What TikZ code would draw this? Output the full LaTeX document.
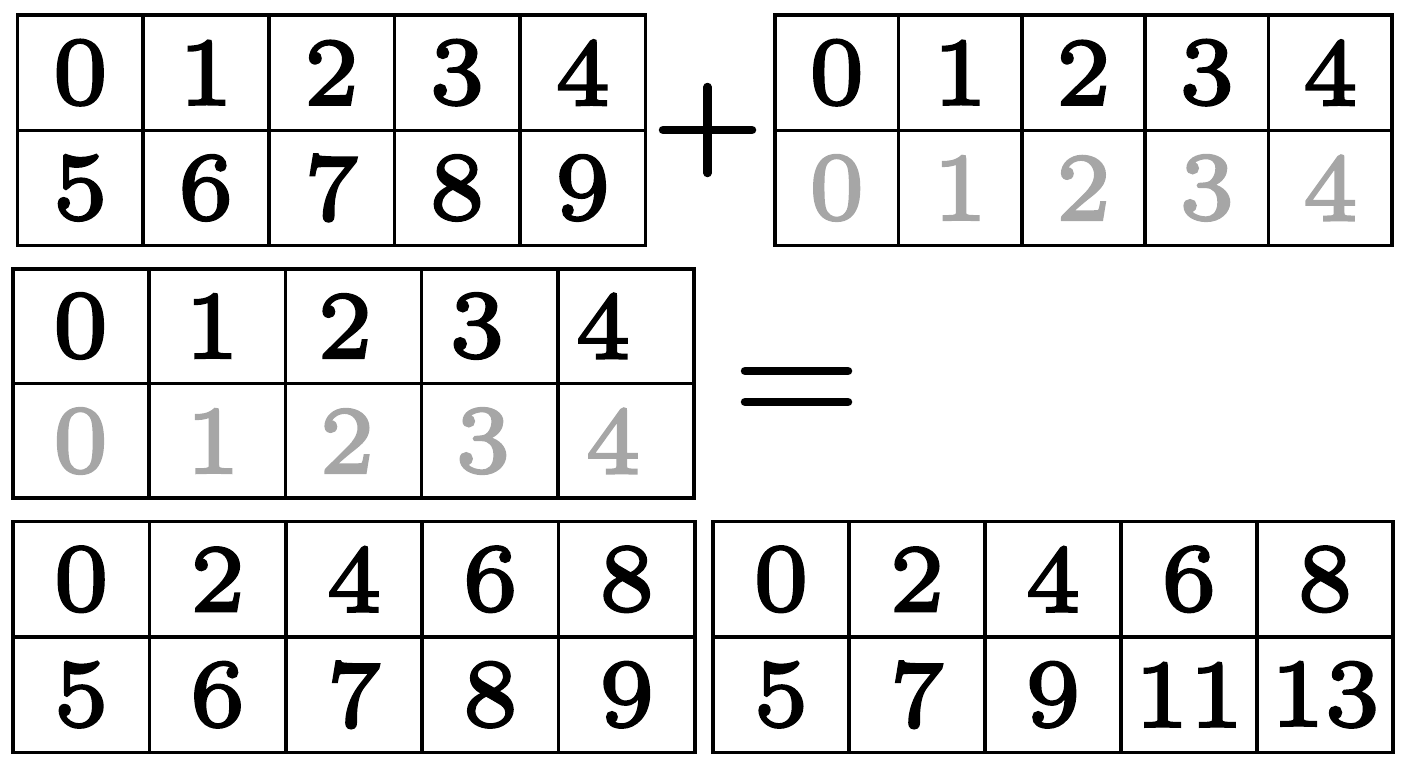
\documentclass[tikz,border=0pt]{standalone}
\usepackage{fontspec}
\usepackage{tikz}
\usetikzlibrary{positioning}
\newfontfamily\digitfont{lmroman7-regular.otf}[FakeBold=2.8]
\definecolor{lightnum}{RGB}{166,166,166}
\newcommand{\bignum}{\digitfont\fontsize{96}{96}\selectfont}
% one 2x5 grid: name, left, top, cell width, cell height, top digits, bottom digits, bottom colour
\newcommand{\numgrid}[8]{%
  \foreach \v [count=\i from 0] in {#6}
    \node[cellbox, minimum width=#4pt, minimum height=#5pt] (#1-t\i) at ({#2+(\i+0.5)*#4},{#3+0.5*#5}) {\v};
  \foreach \v [count=\i from 0] in {#7}
    \node[cellbox, minimum width=#4pt, minimum height=#5pt, text=#8] (#1-b\i) at ({#2+(\i+0.5)*#4},{#3+1.5*#5}) {\v};
}
\begin{document}
\begin{tikzpicture}[x=1pt,y=1pt,yscale=-1,xscale=1]
  \tikzset{cellbox/.style={draw=black, line width=3.6pt, inner sep=0pt, font=\bignum}}
  \tikzset{numtext/.style={inner sep=0pt, font=\bignum}}
  \tikzset{opsign/.style={line width=8.5pt, line cap=round}}
  \useasboundingbox (0,0) rectangle (1408,768);
  %Draw the two grids that are added
  \numgrid{first}{17.5}{15}{125.6}{115.3}{0,1,2,3,4}{5,6,7,8,9}{black}
  \numgrid{second}{775}{15}{123.4}{115.3}{0,1,2,3,4}{0,1,2,3,4}{lightnum}
  %Draw the plus sign
  \draw[opsign] (663,130) -- (752,130);
  \draw[opsign] (707.5,87) -- (707.5,173);
  %Draw the middle grid, its digits sit a little to the left
  \foreach \i in {0,...,4} {
    \node[cellbox, minimum width=136.2pt, minimum height=114.6pt] (middle-t\i) at ({13+(\i+0.5)*136.2},{269+0.5*114.6}) {};
    \node[cellbox, minimum width=136.2pt, minimum height=114.6pt] (middle-b\i) at ({13+(\i+0.5)*136.2},{269+1.5*114.6}) {};
  }
  \foreach \v/\x in {0/80.5,1/212,2/345,3/477,4/603}
    \node[numtext] (middle-tn\v) at (\x,326) {\v};
  \foreach \v/\x in {0/80.5,1/213,2/347,3/483,4/613}
    \node[numtext, text=lightnum] (middle-bn\v) at (\x,441) {\v};
  %Draw the equals sign
  \draw[opsign] (745,371) -- (848,371);
  \draw[opsign] (745,402) -- (848,402);
  %Draw the result grids
  \numgrid{left}{13}{521.5}{136.4}{115.5}{0,2,4,6,8}{5,6,7,8,9}{black}
  \numgrid{right}{713}{521.5}{136}{115.5}{0,2,4,6,8}{5,7,9,11,13}{black}
\end{tikzpicture}
\end{document}
